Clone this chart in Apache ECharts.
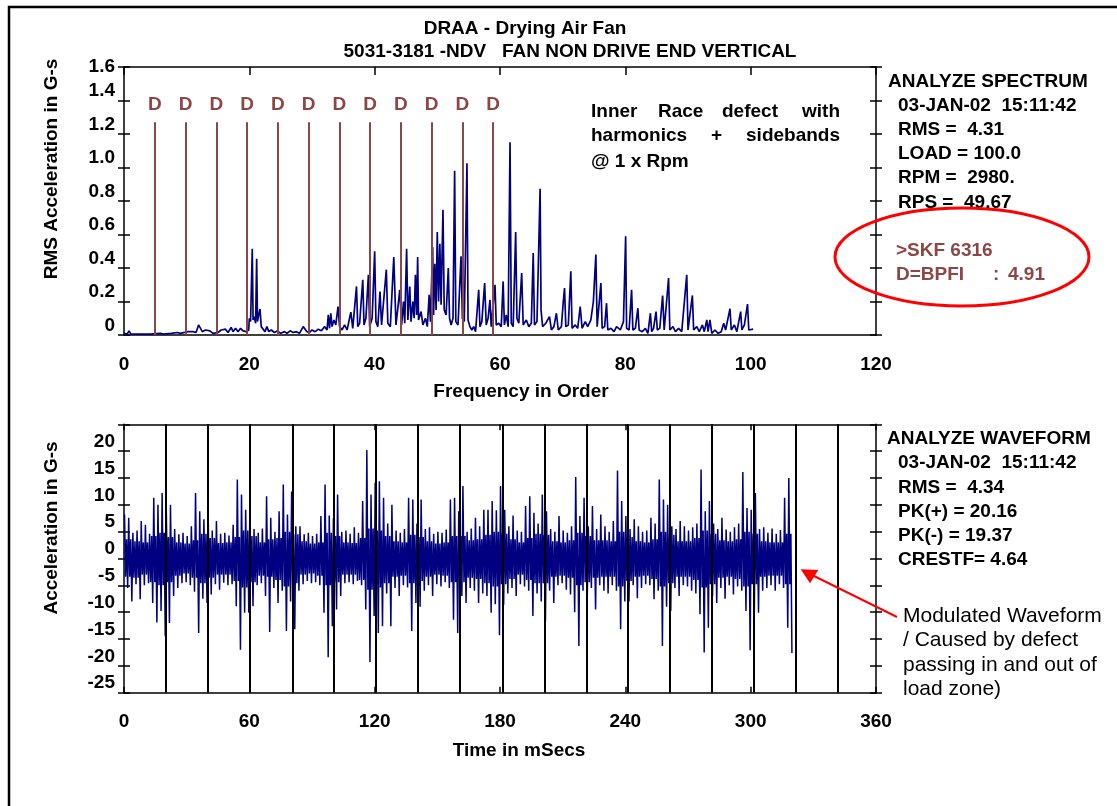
<!DOCTYPE html>
<html>
<head>
<meta charset="utf-8">
<script src="https://cdn.jsdelivr.net/npm/echarts@6.0.0/dist/echarts.min.js"></script>
<style>
html, body { margin: 0; padding: 0; background: #fff; }
#chart { width: 1117px; height: 806px; }
</style>
</head>
<body>
<div id="chart"></div>
<script>
// spectrum: [order, RMS G-s]
var spectrum = [
    [0, 0.01], [0.5, 0.005], [0.8, 0.025], [1.1, 0.005], [3.5, 0.005], [3.8, 0.015], [4.1, 0.005],
    [5.8, 0.01], [6.0, 0.02], [6.3, 0.005], [7.5, 0.01], [8.5, 0.015], [9.0, 0.01], [10.2, 0.02],
    [10.5, 0.01], [11.0, 0.02], [11.5, 0.015], [11.9, 0.06], [12.2, 0.055], [12.5, 0.02], [13.0, 0.03],
    [13.3, 0.02], [13.7, 0.025], [14.2, 0.01], [15.0, 0.015], [15.5, 0.03], [15.8, 0.02], [16.2, 0.035],
    [16.6, 0.015], [17.1, 0.045], [17.4, 0.02], [17.8, 0.04], [18.2, 0.02], [18.6, 0.04], [19.0, 0.025],
    [19.5, 0.02], [19.9, 0.03], [20.0, 0.1], [20.2, 0.08], [20.47, 0.515], [20.6, 0.09], [20.8, 0.11],
    [21.0, 0.07], [21.17, 0.455], [21.3, 0.08], [21.5, 0.12], [21.7, 0.155], [21.9, 0.05], [22.2, 0.06],
    [22.5, 0.02], [22.8, 0.05], [23.1, 0.02], [23.5, 0.03], [24.0, 0.015], [24.5, 0.025], [25.0, 0.01],
    [25.6, 0.02], [26.0, 0.01], [26.5, 0.025], [27.0, 0.015], [27.5, 0.02], [28.0, 0.01], [28.6, 0.05],
    [28.9, 0.045], [29.2, 0.02], [29.6, 0.015], [30.0, 0.03], [30.5, 0.02], [31.0, 0.035], [31.5, 0.025],
    [32.0, 0.05], [32.4, 0.03], [32.6, 0.12], [32.8, 0.04], [33.0, 0.13], [33.2, 0.05], [33.5, 0.09],
    [33.8, 0.06], [34.15, 0.17], [34.4, 0.05], [34.8, 0.03], [35.2, 0.06], [35.6, 0.03], [36.2, 0.137],
    [36.5, 0.04], [37.1, 0.29], [37.3, 0.05], [37.6, 0.07], [38.1, 0.33], [38.3, 0.06], [38.6, 0.1],
    [39.0, 0.36], [39.2, 0.05], [39.6, 0.1], [40.0, 0.5], [40.2, 0.08], [40.5, 0.05], [40.85, 0.26],
    [41.1, 0.06], [41.86, 0.39], [42.1, 0.07], [42.5, 0.05], [43.05, 0.465], [43.4, 0.06], [43.7, 0.16],
    [44.0, 0.27], [44.3, 0.06], [44.6, 0.2], [44.8, 0.07], [45.1, 0.515], [45.3, 0.09], [45.6, 0.29],
    [45.8, 0.08], [46.1, 0.2], [46.3, 0.1], [46.5, 0.36], [46.7, 0.12], [46.86, 0.465], [47.0, 0.09],
    [47.4, 0.14], [47.7, 0.06], [48.1, 0.1], [48.4, 0.05], [48.7, 0.24], [48.9, 0.08], [49.25, 0.525],
    [49.4, 0.12], [49.6, 0.425], [49.8, 0.15], [49.99, 0.615], [50.2, 0.2], [50.4, 0.545], [50.6, 0.18],
    [50.9, 0.748], [51.1, 0.15], [51.4, 0.12], [51.75, 0.4], [51.95, 0.1], [52.2, 0.06], [52.5, 0.1],
    [52.76, 0.98], [52.95, 0.08], [53.3, 0.06], [53.78, 0.47], [54.0, 0.1], [54.3, 0.08], [54.73, 1.026],
    [54.9, 0.09], [55.2, 0.05], [55.5, 0.03], [55.8, 0.05], [56.1, 0.02], [56.6, 0.27], [56.8, 0.05],
    [57.1, 0.08], [57.55, 0.31], [57.8, 0.06], [58.1, 0.1], [58.4, 0.21], [58.6, 0.05], [59.2, 0.3],
    [59.4, 0.06], [59.8, 0.07], [60.2, 0.05], [60.5, 0.32], [60.7, 0.06], [61.0, 0.12], [61.3, 0.05],
    [61.6, 1.15], [61.8, 0.07], [62.1, 0.05], [62.5, 0.615], [62.7, 0.1], [63.0, 0.07], [63.46, 0.37],
    [63.7, 0.06], [64.2, 0.09], [64.6, 0.05], [65.0, 0.07], [65.3, 0.49], [65.5, 0.06], [65.9, 0.08],
    [66.4, 0.873], [66.55, 0.15], [66.8, 0.05], [67.3, 0.07], [67.9, 0.11], [68.2, 0.03], [68.6, 0.05],
    [69.0, 0.13], [69.3, 0.03], [69.8, 0.05], [70.1, 0.2], [70.3, 0.28], [70.5, 0.05], [70.9, 0.06],
    [71.3, 0.38], [71.5, 0.04], [72.0, 0.06], [72.4, 0.04], [72.8, 0.17], [73.1, 0.04], [73.6, 0.08],
    [74.0, 0.05], [74.5, 0.09], [74.9, 0.2], [75.3, 0.48], [75.5, 0.05], [76.1, 0.31], [76.3, 0.04],
    [76.7, 0.05], [77.0, 0.19], [77.2, 0.03], [77.7, 0.04], [78.2, 0.02], [78.6, 0.05], [79.2, 0.03],
    [79.7, 0.08], [80.05, 0.59], [80.2, 0.04], [80.6, 0.03], [81.0, 0.27], [81.2, 0.03], [81.6, 0.04],
    [82.0, 0.16], [82.2, 0.03], [82.7, 0.02], [83.2, 0.04], [83.6, 0.01], [84.0, 0.13], [84.2, 0.02],
    [84.5, 0.04], [84.9, 0.14], [85.1, 0.03], [85.5, 0.04], [85.95, 0.236], [86.2, 0.03], [86.9, 0.34],
    [87.1, 0.03], [87.6, 0.05], [88.0, 0.02], [88.5, 0.04], [89.0, 0.02], [89.8, 0.36], [90.0, 0.03],
    [90.7, 0.236], [90.9, 0.03], [91.4, 0.05], [91.8, 0.02], [92.3, 0.06], [92.6, 0.02], [93.0, 0.09],
    [93.2, 0.02], [93.5, 0.09], [93.8, 0.01], [94.3, 0.03], [94.8, 0.01], [95.3, 0.02], [95.7, 0.07],
    [96.0, 0.03], [96.7, 0.157], [96.9, 0.03], [97.4, 0.06], [97.8, 0.02], [98.4, 0.14], [98.6, 0.03],
    [99.0, 0.06], [99.5, 0.185], [99.7, 0.03], [100.0, 0.04], [100.4, 0.035]
];

// D = BPFI harmonics (orders) and marker height
var bpfiOrders = [4.91, 9.82, 14.73, 19.64, 24.55, 29.46, 34.37, 39.28, 44.19, 49.10, 54.01, 58.92];
var dLineTop = 1.27;

// waveform spikes: max / min in every 2 ms, 0..320 ms
var binMs = 2;
var wavePos = [
    8.2, 7.6, 4.8, 5.2, 7.0, 6.3, 4.6, 11.3, 10.0, 12.2,
    9.0, 10.0, 5.5, 4.5, 4.8, 4.2, 6.0, 12.2, 8.8, 7.3,
    9.4, 5.2, 7.0, 4.6, 4.8, 4.3, 6.3, 14.7, 11.9, 9.1,
    9.6, 5.5, 4.8, 5.6, 11.6, 7.6, 5.0, 8.8, 13.8, 8.2,
    12.5, 6.0, 6.0, 4.5, 4.8, 4.2, 4.6, 7.9, 13.8, 8.0,
    7.5, 11.9, 5.0, 5.2, 4.6, 5.8, 4.8, 10.7, 20.2, 11.9,
    14.1, 14.4, 11.3, 6.5, 10.0, 5.2, 4.8, 5.5, 11.3, 11.0,
    6.5, 11.0, 5.5, 5.8, 4.6, 5.0, 4.8, 5.4, 11.0, 11.3,
    8.8, 13.5, 5.0, 5.6, 7.6, 6.0, 9.1, 9.1, 10.7, 9.0,
    13.5, 9.1, 6.0, 8.0, 5.2, 5.0, 9.8, 11.6, 8.5, 6.5,
    11.9, 8.8, 5.5, 5.0, 7.9, 5.2, 4.8, 6.0, 15.2, 7.9,
    11.3, 6.0, 9.8, 5.5, 8.2, 6.0, 5.0, 7.0, 16.4, 10.7,
    7.9, 5.5, 7.3, 6.0, 5.0, 5.2, 7.6, 6.5, 14.7, 11.0,
    10.0, 6.0, 5.5, 7.0, 6.0, 5.2, 5.8, 6.5, 16.6, 8.8,
    10.7, 6.5, 5.5, 7.6, 5.4, 5.0, 5.8, 6.5, 16.1, 9.4,
    9.1, 12.2, 5.5, 5.8, 4.8, 5.6, 4.6, 5.3, 11.3, 15.0
];
var waveNeg = [
    -5.5, -8.0, -4.8, -7.6, -5.0, -4.6, -8.3, -11.9, -9.8, -14.5,
    -12.0, -7.0, -5.5, -4.6, -4.4, -5.0, -6.2, -13.9, -7.5, -8.3,
    -6.7, -4.8, -5.8, -4.5, -5.0, -4.8, -8.9, -17.0, -10.1, -10.1,
    -8.9, -5.0, -4.6, -7.0, -13.7, -5.5, -8.3, -6.0, -13.5, -8.0,
    -13.2, -6.0, -4.8, -4.2, -4.6, -4.4, -5.0, -10.1, -18.4, -12.6,
    -9.5, -7.0, -4.6, -4.4, -4.8, -4.2, -5.0, -9.5, -19.3, -10.7,
    -13.9, -12.6, -6.5, -12.6, -5.5, -7.0, -5.0, -5.4, -13.5, -8.3,
    -9.0, -6.0, -5.0, -7.0, -4.8, -5.2, -4.4, -5.5, -11.4, -13.9,
    -7.0, -8.3, -5.5, -6.0, -8.3, -6.5, -7.0, -10.1, -8.5, -14.3,
    -8.6, -6.5, -5.5, -7.0, -4.8, -5.2, -6.0, -10.7, -6.5, -8.0,
    -11.7, -6.0, -8.3, -5.0, -4.6, -5.8, -6.7, -10.0, -16.3, -6.0,
    -8.0, -5.5, -9.5, -5.0, -6.0, -6.5, -5.0, -6.0, -13.2, -8.0,
    -8.0, -5.0, -7.4, -5.5, -4.8, -5.0, -7.6, -6.0, -16.3, -9.0,
    -9.8, -5.5, -7.0, -5.0, -5.2, -6.0, -6.5, -10.4, -17.5, -12.9,
    -7.0, -8.3, -5.5, -7.5, -5.0, -6.7, -5.2, -6.0, -9.8, -17.1,
    -10.1, -10.1, -6.0, -5.5, -5.0, -6.0, -4.8, -5.5, -12.9, -17.6
];

// inner swings of the dense band, every 4 ms
var coreMs = 4;
var coreHi = [
    3.6, 3.2, 3.0, 4.2, 4.8,  4.0, 3.0, 2.8, 3.4, 4.6,  3.8, 2.9, 3.0, 4.0, 5.2,  4.2, 3.0, 3.6, 3.8, 5.0,
    4.5, 3.2, 2.8, 3.0, 4.8,  4.2, 3.0, 2.9, 3.8, 5.6,  5.2, 4.2, 3.2, 3.0, 4.4,  4.0, 3.2, 2.8, 3.0, 4.2,
    4.2, 3.4, 3.6, 4.4, 5.0,  4.6, 3.6, 3.0, 3.8, 4.6,  4.4, 3.2, 3.0, 3.4, 4.8,  4.2, 3.4, 3.4, 3.2, 5.0,
    4.0, 3.2, 3.0, 3.6, 5.0,  4.4, 3.2, 3.2, 3.8, 5.2,  4.6, 3.4, 3.2, 3.6, 5.0,  4.6, 3.2, 3.0, 3.0, 4.6
];
var coreLo = [
    -3.4, -3.6, -3.0, -4.4, -5.0,  -4.4, -3.2, -2.8, -3.6, -4.6,  -3.6, -3.0, -3.0, -4.2, -5.4,  -4.4, -3.2, -3.4, -4.0, -5.2,
    -4.6, -3.0, -2.8, -3.2, -5.0,  -4.4, -3.0, -3.0, -4.0, -5.8,  -5.4, -4.6, -3.4, -3.2, -4.6,  -4.2, -3.4, -3.0, -3.2, -4.4,
    -4.4, -3.6, -3.8, -4.6, -5.2,  -4.8, -3.8, -3.0, -4.0, -4.6,  -4.6, -3.4, -3.2, -3.6, -5.0,  -4.4, -3.6, -3.4, -3.4, -5.2,
    -4.2, -3.4, -3.2, -3.8, -5.2,  -4.6, -3.4, -3.4, -4.0, -5.4,  -4.8, -3.6, -3.4, -3.8, -5.2,  -4.8, -3.4, -3.2, -3.2, -4.8
];

// once-per-rev markers on the waveform (ms)
var revTimes = [20.1, 40.1, 60.3, 80.6, 100.5, 120.5, 140.6, 160.6, 181.1, 201.2, 221.3, 241.1, 261.1, 281.2, 301.7, 321.7, 341.7];

// tick labels
var specYLabels = ['0', '0.2', '0.4', '0.6', '0.8', '1.0', '1.2', '1.4', '1.6'];
var waveYLabels = ['-25', '-20', '-15', '-10', '-5', '0', '5', '10', '15', '20', ''];

var navy = '#000080';
var brown = '#8c4646';
var FAM = '"Liberation Sans", Arial, sans-serif';
var BOLD = 'bold 19px ' + FAM;

// each 2 ms bin: peak up, inner low, inner high, peak down
var wave = [];
for (var i = 0; i < wavePos.length; i++) {
    var k = Math.floor(i * binMs / coreMs);
    var t0 = i * binMs;
    wave.push([t0 + 0.25, wavePos[i]]);
    wave.push([t0 + 0.75, coreLo[k]]);
    wave.push([t0 + 1.25, coreHi[k]]);
    wave.push([t0 + 1.75, waveNeg[i]]);
}

var myChart = echarts.init(document.getElementById('chart'));

var axisLine = { show: true, onZero: false, lineStyle: { color: '#000', width: 1.5 } };
var tickStyle = { color: '#000', width: 1.5 };
var lblStyle = { color: '#000', fontFamily: FAM, fontWeight: 'bold', fontSize: 19 };

// y axes: labels + outside ticks, inside ticks, right side both ways
function yAxes(grid, min, max, step, labels) {
    var base = { gridIndex: grid, type: 'value', min: min, max: max, interval: step, splitLine: { show: false } };
    var idx = function (v) { return Math.round((v - min) / step); };
    return [
        Object.assign({}, base, {
            position: 'left', axisLine: axisLine,
            axisTick: { show: true, inside: false, length: 6, lineStyle: tickStyle },
            axisLabel: Object.assign({}, lblStyle, {
                margin: 9, verticalAlign: 'bottom', showMinLabel: true, showMaxLabel: true,
                formatter: function (v) { return v >= max ? '' : labels[idx(v)]; }
            })
        }),
        Object.assign({}, base, {
            position: 'left', axisLine: { show: false, onZero: false },
            axisTick: { show: true, inside: true, length: 6, lineStyle: tickStyle },
            axisLabel: Object.assign({}, lblStyle, {
                margin: 9, verticalAlign: 'middle', showMaxLabel: true,
                formatter: function (v) { return v >= max ? labels[idx(v)] : ''; }
            })
        }),
        Object.assign({}, base, {
            position: 'right', axisLine: axisLine,
            axisTick: { show: true, inside: false, length: 6, lineStyle: tickStyle },
            axisLabel: { show: false }
        }),
        Object.assign({}, base, {
            position: 'right', axisLine: { show: false, onZero: false },
            axisTick: { show: true, inside: true, length: 6, lineStyle: tickStyle },
            axisLabel: { show: false }
        })
    ];
}

function txt(x, y, text, opt) {
    opt = opt || {};
    return {
        type: 'text', x: x, y: y, rotation: opt.rot || 0, z: 10,
        style: {
            x: 0, y: 0, text: text, font: opt.font || BOLD, fill: opt.color || '#000',
            align: opt.align || 'left', textAlign: opt.align || 'left',
            verticalAlign: 'middle', textVerticalAlign: 'middle'
        }
    };
}

var graphics = [
    { type: 'rect', shape: { x: 9, y: 7, width: 1300, height: 1000 }, style: { fill: 'none', stroke: '#000', lineWidth: 2.5 } },
    txt(525, 29, 'DRAA - Drying Air Fan', { align: 'center' }),
    txt(570, 52, '5031-3181 -NDV   FAN NON DRIVE END VERTICAL', { align: 'center' }),
    txt(52, 169, 'RMS Acceleration in G-s', { align: 'center', rot: Math.PI / 2 }),
    txt(52, 528, 'Acceleration in G-s', { align: 'center', rot: Math.PI / 2 }),
    txt(521, 392, 'Frequency in Order', { align: 'center' }),
    txt(519, 751, 'Time in mSecs', { align: 'center' }),

    txt(591, 112, 'Inner'), txt(658, 112, 'Race'), txt(722, 112, 'defect'), txt(840, 112, 'with', { align: 'right' }),
    txt(591, 136, 'harmonics'), txt(711, 136, '+'), txt(840, 136, 'sidebands', { align: 'right' }),
    txt(591, 162, '@ 1 x Rpm'),

    txt(888, 82, 'ANALYZE SPECTRUM'),
    txt(898, 106, '03-JAN-02  15:11:42'),
    txt(898, 130, 'RMS =  4.31'),
    txt(898, 154, 'LOAD = 100.0'),
    txt(898, 178, 'RPM =  2980.'),
    txt(898, 203, 'RPS =  49.67'),
    txt(896, 251, '>SKF 6316', { color: brown }),
    txt(896, 275, 'D=BPFI', { color: brown }),
    txt(993, 275, ':', { color: brown }),
    txt(1008, 275, '4.91', { color: brown }),
    { type: 'ellipse', z: 11, shape: { cx: 962, cy: 257, rx: 127, ry: 49 }, style: { fill: 'none', stroke: '#ff0000', lineWidth: 3 } },

    txt(887, 439, 'ANALYZE WAVEFORM'),
    txt(898, 463, '03-JAN-02  15:11:42'),
    txt(898, 488, 'RMS =  4.34'),
    txt(898, 512, 'PK(+) = 20.16'),
    txt(898, 536, 'PK(-) = 19.37'),
    txt(898, 560, 'CRESTF= 4.64'),
    txt(903, 616, 'Modulated Waveform', { font: '21px ' + FAM }),
    txt(903, 640, '/ Caused by defect', { font: '21px ' + FAM }),
    txt(903, 665, 'passing in and out of', { font: '21px ' + FAM }),
    txt(903, 689, 'load zone)', { font: '21px ' + FAM }),
    { type: 'line', z: 11, shape: { x1: 897, y1: 617, x2: 812, y2: 575 }, style: { stroke: '#ff0000', lineWidth: 2 } },
    { type: 'polygon', z: 11, shape: { points: [[800.7, 569.3], [810, 583.3], [818.3, 570]] }, style: { fill: '#ff0000' } }
];

var option = {
    animation: false,
    textStyle: { fontFamily: FAM },
    grid: [
        { left: 124, top: 67, width: 752, height: 268 },
        { left: 124, top: 424.3, width: 752, height: 268.4 }
    ],
    xAxis: [
        {
            gridIndex: 0, type: 'value', position: 'bottom', min: 0, max: 120, interval: 20,
            axisLine: axisLine, axisTick: { show: false }, splitLine: { show: false },
            axisLabel: Object.assign({}, lblStyle, { margin: 20, showMinLabel: true, showMaxLabel: true })
        },
        {
            gridIndex: 0, type: 'value', position: 'top', min: 0, max: 120, interval: 20,
            axisLine: axisLine, axisTick: { show: true, inside: true, length: 8, lineStyle: tickStyle },
            splitLine: { show: false }, axisLabel: { show: false }
        },
        {
            gridIndex: 1, type: 'value', position: 'bottom', min: 0, max: 360, interval: 60,
            axisLine: axisLine, axisTick: { show: true, inside: true, length: 6, lineStyle: tickStyle },
            splitLine: { show: false },
            axisLabel: Object.assign({}, lblStyle, { margin: 20, showMinLabel: true, showMaxLabel: true })
        },
        {
            gridIndex: 1, type: 'value', position: 'top', min: 0, max: 360, interval: 60,
            axisLine: axisLine, axisTick: { show: true, inside: true, length: 6, lineStyle: tickStyle },
            splitLine: { show: false }, axisLabel: { show: false }
        }
    ],
    yAxis: yAxes(0, 0, 1.6, 0.2, specYLabels).concat(yAxes(1, -25, 25, 5, waveYLabels)),
    series: [
        {
            name: 'spectrum', type: 'line', xAxisIndex: 0, yAxisIndex: 0,
            data: spectrum, showSymbol: false, symbol: 'none',
            lineStyle: { color: navy, width: 1.7 },
            markLine: {
                silent: true, symbol: ['none', 'none'], animation: false,
                lineStyle: { color: brown, width: 2, type: 'solid' },
                label: { show: true, position: 'end', formatter: 'D', distance: 8, color: brown, fontWeight: 'bold', fontSize: 19, fontFamily: FAM },
                data: bpfiOrders.map(function (f) { return [{ coord: [f, 0] }, { coord: [f, dLineTop] }]; })
            }
        },
        {
            name: 'waveform', type: 'line', xAxisIndex: 2, yAxisIndex: 4,
            data: wave, showSymbol: false, symbol: 'none', sampling: null,
            lineStyle: { color: navy, width: 1.5 },
            markLine: {
                silent: true, symbol: ['none', 'none'], animation: false,
                lineStyle: { color: '#000', width: 2, type: 'solid' },
                label: { show: false },
                data: revTimes.map(function (t) { return { xAxis: t }; })
            }
        }
    ],
    graphic: graphics
};

myChart.setOption(option);
window.addEventListener('resize', function () {
    myChart.resize();
});
</script>
</body>
</html>
